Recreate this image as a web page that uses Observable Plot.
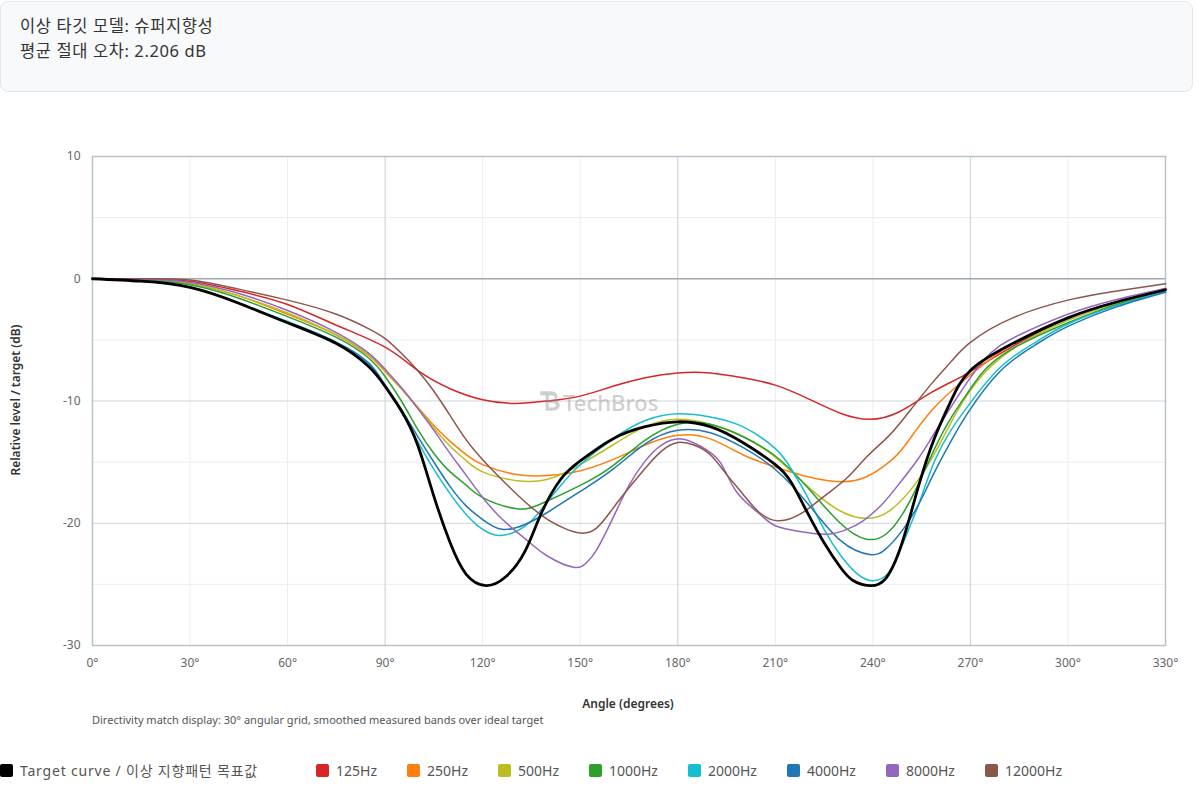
<!DOCTYPE html>
<html>
<head>
<meta charset="utf-8">
<script src="https://cdn.jsdelivr.net/npm/d3@7"></script>
<script src="https://cdn.jsdelivr.net/npm/@observablehq/plot@0.6"></script>
<style>
  html, body { margin: 0; padding: 0; background: #fff; }
  body { width: 1200px; height: 800px; position: relative; overflow: hidden;
         font-family: "Noto Sans", "Noto Sans CJK KR", sans-serif; }
  #header { position: absolute; left: 0; top: 1px; width: 1193px; height: 91px; box-sizing: border-box;
            border: 1px solid #e2e5e9; border-radius: 8px; background: #f8f9fb;
            padding: 11px 0 0 19px; color: #333; font-size: 16.5px; line-height: 25px; letter-spacing: 0.6px; }
  #chart { position: absolute; left: 0; top: 100px; }
  .lbl { position: absolute; color: #333; font-size: 12px; font-weight: 600; white-space: nowrap; }
  #xlabel { left: 628px; top: 703px; transform: translate(-50%, -50%); }
  #ylabel { left: 15px; top: 400px; transform: translate(-50%, -50%) rotate(-90deg); }
  #caption { position: absolute; left: 92px; top: 719px; transform: translateY(-50%); font-size: 11px; color: #555; white-space: nowrap; }
  #legend { position: absolute; left: 0; top: 770px; transform: translateY(-50%); display: flex; align-items: center; }
  .item { display: flex; align-items: center; margin-right: 30px; font-size: 14px; color: #555; white-space: nowrap; }
  .item:first-child { margin-right: 58px; }
  .item:first-child span { letter-spacing: 0.8px; }
  .sw { width: 13px; height: 13px; border-radius: 2px; margin-right: 7px; }
  #wm { position: absolute; left: 539px; top: 402px; transform: translateY(-50%); display: flex; align-items: center;
        color: rgba(140,140,140,0.42); font-size: 22px; font-weight: 500; pointer-events: none; }
</style>
</head>
<body>
<div id="header"></div>
<div id="chart"></div>
<div id="xlabel" class="lbl"></div>
<div id="ylabel" class="lbl"></div>
<div id="caption"></div>
<div id="legend"></div>
<div id="wm"><svg width="24" height="26" viewBox="0 0 22 24"><path d="M1 2h9c5 0 7 2 7 4.5S15 10 13 10c3 0 6 2 6 5s-3 5-7 5H6V6H1z M9 6v4h3c1.5 0 2.5-.8 2.5-2S13.5 6 12 6z M9 13v4h3.5c1.8 0 3-.8 3-2s-1.2-2-3-2z" fill="rgba(140,140,140,0.42)" fill-rule="evenodd"/></svg><span>TechBros</span></div>
<script>
// ---- text ----
const titleLines = ["이상 타깃 모델: 슈퍼지향성", "평균 절대 오차: 2.206 dB"];
const xLabel = "Angle (degrees)";
const yLabel = "Relative level / target (dB)";
const caption = "Directivity match display: 30° angular grid, smoothed measured bands over ideal target";

// ---- axes ----
const xTicks = [0, 30, 60, 90, 120, 150, 180, 210, 240, 270, 300, 330];
const yTicks = [-30, -20, -10, 0, 10];
const xMajorGrid = [90, 180, 270];
const xMinorGrid = [30, 60, 120, 150, 210, 240, 300];
const yMajorGrid = [-20, -10];
const yMinorGrid = [-25, -15, -5, 5];

// ---- series names and colors ----
const seriesNames = ["Target curve / 이상 지향패턴 목표값", "125Hz", "250Hz", "500Hz", "1000Hz", "2000Hz", "4000Hz", "8000Hz", "12000Hz"];
const seriesColors = ["#000000", "#d62728", "#ff7f0e", "#bcbd22", "#2ca02c", "#17becf", "#1f77b4", "#9467bd", "#8c564b"];

// ---- data: [angle deg, level dB] ----
const target = [[0,0],[15,-0.2],[30,-0.7],[45,-2.0],[60,-3.6],[75,-5.3],[85,-7.2],[90,-8.8],[95,-10.8],[100,-13.6],[105,-17.8],[110,-21.6],[115,-24.2],[121,-25.1],[127,-24.4],[133,-22.3],[138,-19.2],[144,-16.4],[150,-14.9],[160,-13.1],[170,-12.1],[180,-11.7],[190,-12.1],[200,-13.4],[210,-15.2],[215,-16.7],[220,-19.2],[225,-21.6],[230,-23.6],[234,-24.7],[239,-25.1],[244,-24.5],[249,-21.6],[254,-17.0],[259,-13.0],[264,-10.0],[270,-7.5],[283,-5.3],[300,-3.2],[315,-1.9],[330,-0.9]];
const hz125 = [[0,0],[15,-0.05],[30,-0.2],[45,-1.0],[60,-2.1],[75,-3.8],[90,-5.6],[100,-7.5],[110,-9.0],[120,-9.9],[130,-10.2],[140,-10.0],[150,-9.6],[160,-8.8],[170,-8.1],[180,-7.7],[190,-7.7],[200,-8.1],[210,-8.7],[220,-9.8],[230,-11.0],[239,-11.5],[248,-10.9],[258,-9.3],[268,-7.9],[280,-6.0],[300,-3.2],[315,-1.9],[330,-0.8]];
const hz250 = [[0,0],[15,-0.1],[30,-0.4],[45,-1.4],[60,-2.9],[75,-4.6],[85,-6.3],[90,-7.6],[95,-9.0],[100,-10.5],[105,-12.0],[110,-13.3],[115,-14.4],[120,-15.2],[130,-16.0],[140,-16.1],[150,-15.7],[160,-14.8],[170,-13.6],[180,-12.8],[190,-13.1],[200,-14.4],[210,-15.4],[220,-16.2],[230,-16.6],[238,-16.2],[245,-15.0],[250,-13.6],[258,-10.8],[268,-8.3],[276,-6.6],[285,-5.0],[300,-3.2],[315,-1.9],[330,-0.9]];
const hz500 = [[0,0],[15,-0.1],[30,-0.4],[45,-1.4],[60,-2.8],[75,-4.6],[85,-6.2],[90,-7.5],[95,-9.0],[100,-10.6],[105,-12.2],[110,-13.7],[115,-14.9],[120,-15.8],[130,-16.5],[140,-16.4],[150,-15.2],[160,-13.6],[170,-12.1],[180,-11.5],[190,-11.9],[200,-12.9],[210,-14.6],[220,-17.0],[230,-19.0],[238,-19.6],[245,-19.0],[253,-16.8],[260,-13.8],[266,-10.8],[274,-7.8],[285,-5.4],[300,-3.4],[315,-2.0],[330,-0.9]];
const hz1000 = [[0,0],[15,-0.1],[30,-0.5],[45,-1.6],[60,-3.1],[75,-4.8],[85,-6.5],[90,-8.0],[95,-10.0],[100,-12.3],[105,-14.3],[110,-15.8],[115,-16.9],[120,-17.9],[130,-18.8],[138,-18.4],[150,-16.9],[160,-15.3],[170,-13.2],[180,-11.9],[190,-11.9],[200,-12.9],[210,-14.5],[220,-17.1],[230,-20.0],[238,-21.3],[244,-20.9],[249,-19.3],[254,-16.8],[259,-13.9],[264,-11.4],[270,-9.0],[280,-6.2],[300,-3.6],[315,-2.1],[330,-1.0]];
const hz2000 = [[0,0],[15,-0.2],[30,-0.7],[45,-2.0],[60,-3.5],[75,-5.2],[85,-7.0],[90,-8.8],[95,-10.9],[100,-13.3],[105,-15.6],[110,-17.6],[115,-19.3],[120,-20.5],[125,-21.0],[130,-20.7],[135,-19.8],[140,-18.2],[145,-16.6],[150,-15.2],[160,-13.1],[170,-11.6],[180,-11.05],[190,-11.3],[200,-12.1],[210,-13.9],[215,-15.6],[220,-17.9],[225,-20.5],[230,-22.6],[235,-24.1],[240,-24.7],[245,-24.0],[249,-21.8],[254,-18.5],[259,-14.9],[264,-12.4],[269,-10.5],[279,-7.3],[290,-5.2],[300,-3.7],[315,-2.2],[330,-1.05]];
const hz4000 = [[0,0],[15,-0.2],[30,-0.7],[45,-2.0],[60,-3.6],[75,-5.2],[85,-6.9],[90,-8.7],[95,-10.7],[100,-12.9],[105,-15.0],[110,-17.0],[115,-18.6],[120,-19.7],[126,-20.5],[133,-20.1],[140,-19.1],[150,-17.4],[160,-15.6],[170,-13.5],[180,-12.4],[190,-12.6],[200,-13.8],[210,-15.6],[220,-18.4],[230,-21.4],[239,-22.55],[244,-22.1],[249,-20.6],[254,-18.5],[259,-15.8],[264,-13.3],[269,-11.05],[279,-7.6],[290,-5.4],[300,-3.9],[315,-2.3],[330,-1.1]];
const hz8000 = [[0,0],[15,-0.05],[30,-0.3],[45,-1.2],[60,-2.6],[75,-4.4],[85,-6.1],[90,-7.4],[95,-8.9],[100,-10.6],[105,-12.4],[110,-14.3],[115,-16.1],[120,-17.9],[125,-19.4],[130,-20.6],[135,-21.7],[140,-22.7],[148,-23.6],[152,-23.2],[155,-22.2],[160,-19.6],[165,-16.9],[170,-14.9],[175,-13.6],[181,-13.1],[187,-13.7],[193,-15.0],[198,-17.4],[205,-19.2],[210,-20.2],[218,-20.7],[226,-20.9],[232,-20.5],[237,-19.8],[243,-18.4],[248,-16.8],[254,-14.7],[259,-12.6],[264,-10.5],[274,-6.7],[285,-4.6],[300,-2.9],[315,-1.7],[330,-0.8]];
const hz12000 = [[0,0],[15,0],[30,-0.1],[45,-0.85],[60,-1.75],[75,-2.9],[85,-4.1],[90,-4.9],[95,-6.1],[100,-7.5],[105,-9.2],[110,-11.2],[115,-13.2],[120,-14.8],[125,-16.2],[130,-17.5],[135,-18.7],[140,-19.7],[145,-20.4],[150,-20.8],[155,-20.4],[160,-18.8],[165,-17.1],[170,-15.5],[175,-14.1],[180,-13.4],[185,-13.6],[190,-14.4],[195,-16.0],[200,-17.6],[205,-19.1],[211,-19.8],[218,-19.2],[225,-17.8],[232,-16.3],[238,-14.6],[244,-13.1],[249,-11.6],[258,-8.6],[264,-6.8],[270,-5.2],[283,-3.2],[300,-1.75],[315,-1.0],[330,-0.4]];

const seriesData = [target, hz125, hz250, hz500, hz1000, hz2000, hz4000, hz8000, hz12000];

// ---- build rows ----
const rows = [];
seriesData.forEach((arr, i) => arr.forEach(([a, v]) => rows.push({series: seriesNames[i], angle: a, level: v})));
const measured = rows.filter(d => d.series !== seriesNames[0]);
const targetRows = rows.filter(d => d.series === seriesNames[0]);

// ---- text into DOM ----
document.getElementById("header").innerHTML = titleLines.map(t => `<div>${t}</div>`).join("");
document.getElementById("xlabel").textContent = xLabel;
document.getElementById("ylabel").textContent = yLabel;
document.getElementById("caption").textContent = caption;
const legend = document.getElementById("legend");
seriesNames.forEach((n, i) => {
  const it = document.createElement("div");
  it.className = "item";
  it.innerHTML = `<div class="sw" style="background:${seriesColors[i]}"></div><span>${n}</span>`;
  legend.appendChild(it);
});

const chart = Plot.plot({
  width: 1200,
  height: 630,
  marginTop: 56,
  marginBottom: 85,
  marginLeft: 92,
  marginRight: 35,
  style: {fontFamily: '"Noto Sans", sans-serif', fontSize: "12px", color: "#666", background: "transparent"},
  x: {domain: [0, 330], ticks: xTicks, tickFormat: d => d + "°", tickSize: 0, tickPadding: 13, label: null},
  y: {domain: [-30, 10], ticks: yTicks, tickFormat: d => String(d), tickSize: 0, tickPadding: 12, label: null},
  color: {domain: seriesNames, range: seriesColors},
  marks: [
    Plot.ruleX(xMinorGrid, {stroke: "#e9edf1", strokeWidth: 1}),
    Plot.ruleY(yMinorGrid, {stroke: "#e9edf1", strokeWidth: 1}),
    Plot.ruleX(xMajorGrid, {stroke: "#cfd5dc", strokeWidth: 1.2}),
    Plot.ruleY(yMajorGrid, {stroke: "#cfd5dc", strokeWidth: 1.2}),
    Plot.ruleY([0], {stroke: "#9ea6af", strokeWidth: 1.5}),
    Plot.frame({stroke: "#b9c1c9", strokeWidth: 1.5}),
    Plot.line(measured, {x: "angle", y: "level", z: "series", stroke: "series", strokeWidth: 1.5, curve: "natural"}),
    Plot.line(targetRows, {x: "angle", y: "level", stroke: "series", strokeWidth: 2.8, curve: "natural"})
  ]
});
document.getElementById("chart").appendChild(chart);
</script>
</body>
</html>
